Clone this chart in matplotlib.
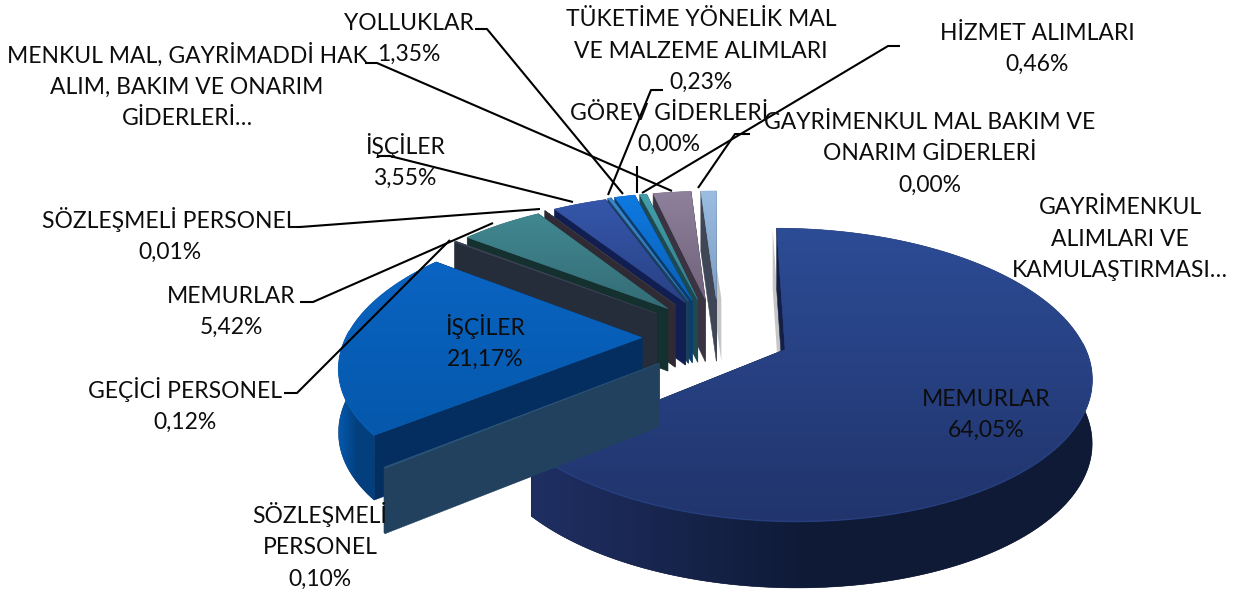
import numpy as np
import matplotlib
matplotlib.use('Agg')
import matplotlib.pyplot as plt
from matplotlib.colors import LinearSegmentedColormap
from matplotlib.patches import Polygon

# clockwise from 12 o'clock; the last two truncated labels have estimated values
kalemler = ['MEMURLAR', 'SÖZLEŞMELİ\nPERSONEL', 'İŞÇİLER', 'GEÇİCİ PERSONEL', 'MEMURLAR',
            'SÖZLEŞMELİ PERSONEL', 'İŞÇİLER', 'TÜKETİME YÖNELİK MAL\nVE MALZEME ALIMLARI',
            'YOLLUKLAR', 'GÖREV GİDERLERİ', 'HİZMET ALIMLARI',
            'MENKUL MAL, GAYRİMADDİ HAK\nALIM, BAKIM VE ONARIM\nGİDERLERİ…',
            'GAYRİMENKUL MAL BAKIM VE\nONARIM GİDERLERİ',
            'GAYRİMENKUL\nALIMLARI VE\nKAMULAŞTIRMASI…']
oranlar = [64.05, 0.10, 21.17, 0.12, 5.42, 0.01, 3.55, 0.23, 1.35, 0.00, 0.46, 2.50, 0.00, 1.04]

# top gradient start, top gradient end, side, outer wall start, outer wall end
renkler = [('#2c4c96', '#21346c', '#141f45', '#1f2f63', '#0f1a36'),
           ('#2a5478', '#2a5478', '#21415f', '#21415f', '#21415f'),
           ('#0a64c2', '#0558ab', '#032e5f', '#0459ad', '#033f7d'),
           ('#3a4354', '#3a4354', '#262d3a', '#262d3a', '#262d3a'),
           ('#418891', '#346c76', '#14302f', '#14302f', '#14302f'),
           ('#3d3742', '#3d3742', '#2f2a33', '#2f2a33', '#2f2a33'),
           ('#3556aa', '#294285', '#101e52', '#101e52', '#101e52'),
           ('#3a86cc', '#2f74b0', '#1b3f5c', '#1b3f5c', '#1b3f5c'),
           ('#0e7ae2', '#0b60b6', '#0a3d6f', '#0a3d6f', '#0a3d6f'),
           ('#888888', '#888888', '#888888', '#888888', '#888888'),
           ('#429fab', '#357f8a', '#1d4a52', '#1d4a52', '#1d4a52'),
           ('#8f809b', '#71637c', '#3a3341', '#3a3341', '#3a3341'),
           ('#888888', '#888888', '#888888', '#888888', '#888888'),
           ('#9cbde2', '#7d9cc1', '#3f4656', '#3f4656', '#3f4656')]

# explode distance of each slice, in pie radii, and extra sideways nudge in pixels
patlama = [0.21, 0.29, 0.29, 0.29, 0.29, 0.29, 0.29, 0.29, 0.29, 0.29, 0.29, 0.29, 0.29, 0.29]
kayma = [0, 0, 0, -5, -4, -8, -6, -12, -12, -12, -11, -11, -11, -9]
# soft shadow next to the first edge of a slice, pixels
golge = {0: -4, 13: 5}

# text block centres in pixels
etiket_yer = [(986, 415), (320, 546), (485, 342), (185, 405), (231, 312), (170, 235), (405, 161),
              (701, 51), (409, 39), (669, 129), (1037, 49), (187, 86), (930, 154), (1120, 239)]
pct_yok = [11, 13]

# leader lines in pixels
kilavuzlar = [[(475, 29), (487, 29), (623, 194)],
              [(365, 63), (377, 63), (672, 191)],
              [(663, 90), (651, 90), (608, 195)],
              [(637, 166), (637, 193)],
              [(900, 46), (888, 46), (642, 193)],
              [(750, 134), (735, 134), (698, 188)],
              [(377, 156), (390, 156), (573, 202)],
              [(290, 227), (300, 227), (540, 209)],
              [(300, 302), (313, 302), (493, 223)],
              [(284, 393), (297, 393), (450, 240)]]

CX, CY, RX, RY, B, DERIN = 728, 337, 296, 138, 0.17, 63


def izdus(x, y, z=0.0, dx=0):
    # perspective projection of the pie plane to pixels
    s = 1 / (1 + B * y)
    return CX + dx + RX * x * s, CY - RY * y * s + z * DERIN * s ** 0.25


def gradyan(ax, pts, renk, zo, yatay=False):
    pts = np.array(pts)
    cmap = LinearSegmentedColormap.from_list('g', renk)
    poly = Polygon(pts, closed=True, facecolor=renk[-1], edgecolor=renk[-1], lw=0.4, zorder=zo)
    ax.add_patch(poly)
    ext = [pts[:, 0].min(), pts[:, 0].max(), pts[:, 1].max(), pts[:, 1].min()]
    dizi = np.linspace(0, 1, 256)
    dizi = dizi.reshape(1, -1) if yatay else dizi.reshape(-1, 1)
    im = ax.imshow(dizi, cmap=cmap, extent=ext, aspect='auto', origin='upper',
                   zorder=zo + 0.01, interpolation='bilinear')
    im.set_clip_path(poly)


fig = plt.figure(figsize=(12.39, 5.94), dpi=100)
ax = fig.add_axes([0, 0, 1, 1])
ax.axis('off')

bitis = 90 - np.cumsum(oranlar) * 3.6
basla = bitis + np.array(oranlar) * 3.6
merkez = np.radians((basla + bitis) / 2)

# back slices first, the big front slice last
sira = np.argsort(-np.sin(merkez) * np.array(patlama))
for n, i in enumerate(sira):
    if oranlar[i] == 0:
        continue
    ust1, ust2, yan, d1, d2 = renkler[i]
    ox = patlama[i] * np.cos(merkez[i])
    oy = patlama[i] * np.sin(merkez[i])
    t = np.radians(np.linspace(basla[i], bitis[i], max(int(oranlar[i] * 5), 3)))
    xs, ys = ox + np.cos(t), oy + np.sin(t)
    zo = 2 + n
    dx = kayma[i]

    if i in golge:
        g = [izdus(ox, oy, 0, dx + golge[i]), izdus(xs[0], ys[0], 0, dx + golge[i]),
             izdus(xs[0], ys[0], 1, dx + golge[i]), izdus(ox, oy, 1, dx + golge[i])]
        ax.add_patch(Polygon(g, closed=True, facecolor='#c6c6c6', edgecolor='none', zorder=1))

    # radial walls
    for x0, y0 in [(xs[0], ys[0]), (xs[-1], ys[-1])]:
        wall = [izdus(ox, oy, 0, dx), izdus(x0, y0, 0, dx), izdus(x0, y0, 1, dx), izdus(ox, oy, 1, dx)]
        ax.add_patch(Polygon(wall, closed=True, facecolor=yan, edgecolor=yan, lw=0.4, zorder=zo))

    # outer wall, darker towards the right; only the part facing the viewer
    on = np.sin(t) < 0.05
    if on.sum() > 1:
        ust_kenar = [izdus(a, b, 0, dx) for a, b in zip(xs[on], ys[on])]
        alt_kenar = [izdus(a, b, 1, dx) for a, b in zip(xs[on], ys[on])]
        gradyan(ax, ust_kenar + alt_kenar[::-1], [d1, d2, d2], zo + 0.1, yatay=True)

    # top face
    ust = [izdus(ox, oy, 0, dx)] + [izdus(a, b, 0, dx) for a, b in zip(xs, ys)]
    gradyan(ax, ust, [ust1, ust2], zo + 0.2)

    # light bevel along the rim of the big slices
    if oranlar[i] > 10:
        kenar = np.array([izdus(a, b, 0, dx) for a, b in zip(xs[on], ys[on])])
        ax.plot(kenar[:, 0], kenar[:, 1], color=ust1, lw=1.0, alpha=0.5, zorder=zo + 0.3)

for yol in kilavuzlar:
    ax.plot([p[0] for p in yol], [p[1] for p in yol], color='black', lw=1.5, zorder=40,
            solid_capstyle='butt')

for i, ad in enumerate(kalemler):
    metin = ad if i in pct_yok else ad + '\n' + f'{oranlar[i]:.2f}'.replace('.', ',') + '%'
    ax.text(etiket_yer[i][0], etiket_yer[i][1], metin, ha='center', va='center', fontsize=16.5,
            family='Lato', color='#0d0d0d', linespacing=1.6, zorder=50)

ax.set_xlim(0, 1239)
ax.set_ylim(594, 0)
fig.savefig('out.png', dpi=100, facecolor='white')
